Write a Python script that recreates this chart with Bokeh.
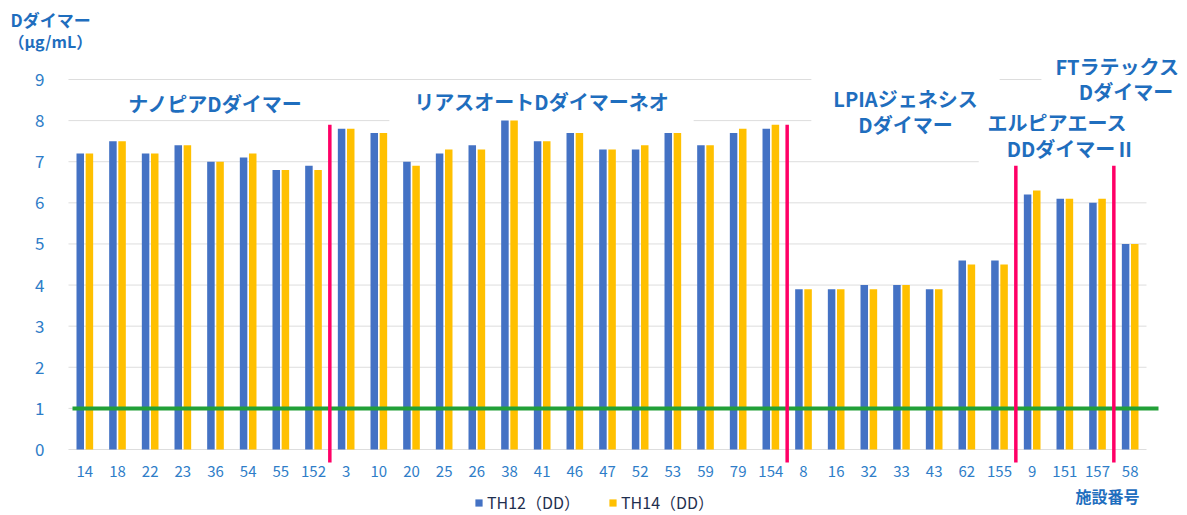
from bokeh.plotting import figure
from bokeh.models import (Range1d, FixedTicker, Label, Legend, LegendItem)
from bokeh.transform import dodge
from bokeh.embed import file_html
from bokeh.resources import INLINE

# ---------------- data ----------------
nanopia_sites = ["14", "18", "22", "23", "36", "54", "55", "152"]
riasu_sites = ["3", "10", "20", "25", "26", "38", "41", "46", "47", "52",
               "53", "59", "79", "154"]
lpia_sites = ["8", "16", "32", "33", "43", "62", "155"]
elpia_sites = ["9", "151", "157"]
ft_sites = ["58"]

nanopia_th12 = [7.2, 7.5, 7.2, 7.4, 7.0, 7.1, 6.8, 6.9]
nanopia_th14 = [7.2, 7.5, 7.2, 7.4, 7.0, 7.2, 6.8, 6.8]
riasu_th12 = [7.8, 7.7, 7.0, 7.2, 7.4, 8.0, 7.5, 7.7, 7.3, 7.3, 7.7, 7.4, 7.7, 7.8]
riasu_th14 = [7.8, 7.7, 6.9, 7.3, 7.3, 8.0, 7.5, 7.7, 7.3, 7.4, 7.7, 7.4, 7.8, 7.9]
lpia_th12 = [3.9, 3.9, 4.0, 4.0, 3.9, 4.6, 4.6]
lpia_th14 = [3.9, 3.9, 3.9, 4.0, 3.9, 4.5, 4.5]
elpia_th12 = [6.2, 6.1, 6.0]
elpia_th14 = [6.3, 6.1, 6.1]
ft_th12 = [5.0]
ft_th14 = [5.0]

series_names = ["TH12（DD）", "TH14（DD）"]
cutoff_value = 1.0
divider_tops = [7.9, 7.9, 6.9, 6.9]
y_ticks = [0, 1, 2, 3, 4, 5, 6, 7, 8, 9]

groups = [nanopia_sites, riasu_sites, lpia_sites, elpia_sites, ft_sites]
sites = [s for g in groups for s in g]
th12 = nanopia_th12 + riasu_th12 + lpia_th12 + elpia_th12 + ft_th12
th14 = nanopia_th14 + riasu_th14 + lpia_th14 + elpia_th14 + ft_th14
idx = list(range(len(sites)))

# ---------------- style ----------------
FONT = "Noto Sans CJK JP"
BLUE = "#4472C4"
ORANGE = "#FFC000"
TXT_BLUE = "#1F6EBE"
TICK_BLUE = "#2E7DC8"
RED = "#FF0066"
GREEN = "#22A038"
GRID = "#DDDDDD"

W, H = 1187, 515
X0, DX = 84.33, 32.667      # pixel of first category centre, pixels per category
Y0, DY = 449.0, 41.11       # pixel of value 0, pixels per unit


def px2x(px):
    return (px - X0) / DX


def py2y(py):
    return (Y0 - py) / DY


p = figure(width=W, height=H,
           x_range=Range1d(px2x(0), px2x(W)),
           y_range=Range1d(py2y(H), py2y(0)),
           output_backend="svg", toolbar_location=None, title=None,
           min_border=0)
p.outline_line_color = None
p.background_fill_color = "white"
p.border_fill_color = "white"
p.xgrid.visible = False
p.ygrid.visible = False

left_edge = -0.5
right_edge = len(sites) - 0.5

# horizontal grid lines (drawn underneath everything)
p.segment(x0=[left_edge] * len(y_ticks), x1=[right_edge] * len(y_ticks),
          y0=y_ticks, y1=y_ticks, line_color=GRID, line_width=1,
          level="underlay")

src = dict(i=idx, th12=th12, th14=th14)
r12 = p.vbar(x=dodge("i", -0.14), top="th12", width=0.23,
             source=src, fill_color=BLUE, line_color=None)
r14 = p.vbar(x=dodge("i", 0.14), top="th14", width=0.23,
             source=src, fill_color=ORANGE, line_color=None)

# cutoff line
p.segment(x0=[px2x(72)], x1=[px2x(1158)], y0=[cutoff_value], y1=[cutoff_value],
          line_color=GREEN, line_width=4)

# group dividers
bounds = []
pos = 0
for g in groups[:-1]:
    pos += len(g)
    bounds.append(pos - 0.5)
p.segment(x0=bounds, x1=bounds, y0=[py2y(462)] * len(bounds), y1=divider_tops,
          line_color=RED, line_width=3.5)

# axes drawn inside the frame
p.yaxis.fixed_location = left_edge
p.yaxis.ticker = FixedTicker(ticks=y_ticks)
p.yaxis.axis_line_color = None
p.yaxis.major_tick_line_color = None
p.yaxis.minor_tick_line_color = None
p.yaxis.major_label_standoff = 18
p.yaxis.major_label_text_font = FONT
p.yaxis.major_label_text_font_size = "17px"
p.yaxis.major_label_text_color = TICK_BLUE

p.xaxis.fixed_location = 0
p.xaxis.ticker = FixedTicker(ticks=idx)
p.xaxis.major_label_overrides = {i: s for i, s in zip(idx, sites)}
p.xaxis.axis_line_color = None
p.xaxis.major_tick_line_color = None
p.xaxis.minor_tick_line_color = None
p.xaxis.major_label_standoff = 10
p.xaxis.major_label_text_font = FONT
p.xaxis.major_label_text_font_size = "15px"
p.xaxis.major_label_text_color = TICK_BLUE

# group labels: (text, centre px, centre py, padding)
# white boxes sit above the grid lines but below the bars
group_labels = [
    ("ナノピアDダイマー", 215, 103, None),
    ("リアスオートDダイマーネオ", 541, 103, dict(left=25, right=25, top=6, bottom=10)),
    ("LPIAジェネシス", 905, 98, dict(left=22, right=22, top=9, bottom=9)),
    ("Dダイマー", 905, 124, dict(left=46, right=46, top=2, bottom=2)),
    ("エルピアエース", 1068, 122, dict(left=3, right=25, top=2, bottom=2)),
    ("DDダイマーⅡ", 1069, 148, dict(left=28, right=25, top=3, bottom=3)),
    ("FTラテックス", 1120, 66, dict(left=14, right=20, top=3, bottom=3)),
    ("Dダイマー", 1121, 91, dict(left=29, right=20, top=2, bottom=2)),
]
for text, cx, cy, pad in group_labels:
    kw = {}
    if pad is not None:
        kw = dict(background_fill_color="white", padding=pad)
    p.add_layout(Label(x=px2x(cx), y=py2y(cy), text=text, text_font=FONT,
                       text_font_size="20px", text_font_style="bold",
                       text_color=TXT_BLUE, text_align="center",
                       text_baseline="middle", level="underlay", **kw))

# axis titles
p.add_layout(Label(x=px2x(10), y=py2y(18.5), text="Dダイマー", text_font=FONT,
                   text_font_size="17px", text_font_style="bold",
                   text_color=TXT_BLUE, text_align="left", text_baseline="middle"))
p.add_layout(Label(x=px2x(8), y=py2y(40), text="（μg/mL）", text_font=FONT,
                   text_font_size="16px", text_font_style="bold",
                   text_color=TXT_BLUE, text_align="left", text_baseline="middle"))
p.add_layout(Label(x=px2x(1107), y=py2y(495), text="施設番号", text_font=FONT,
                   text_font_size="16px", text_font_style="bold",
                   text_color=TXT_BLUE, text_align="center", text_baseline="middle"))

legend = Legend(items=[LegendItem(label=series_names[0], renderers=[r12]),
                       LegendItem(label=series_names[1], renderers=[r14])],
                location=(474, 1), orientation="horizontal",
                padding=0, margin=0, spacing=28, label_standoff=4,
                glyph_width=9, glyph_height=9, label_height=16,
                border_line_color=None, background_fill_alpha=0,
                label_text_font=FONT, label_text_font_size="16px",
                label_text_color="#1F2F4F")
p.add_layout(legend, "center")

open("out.html", "w").write(file_html(p, INLINE))
